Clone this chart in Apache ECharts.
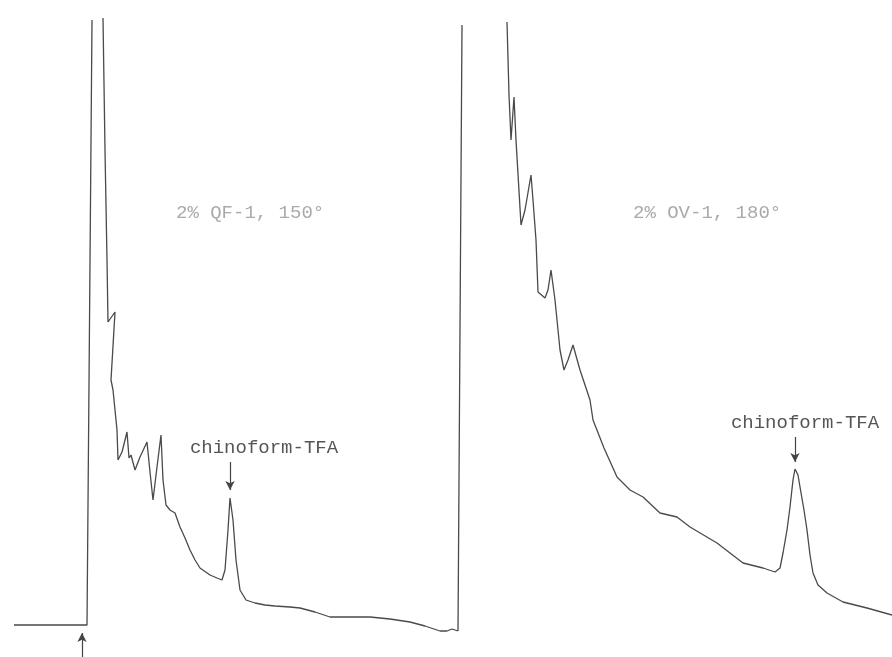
<!DOCTYPE html>
<html>
<head>
<meta charset="utf-8">
<script src="https://cdn.jsdelivr.net/npm/echarts@6/dist/echarts.min.js"></script>
<style>
html,body{margin:0;padding:0;background:#fff;}
#c{width:892px;height:657px;}
</style>
</head>
<body>
<div id="c"></div>
<script>
// Run 1: 2% QF-1, 150°  (time in chart units, detector signal in chart units)
var qfTime   = [14, 87, 92, null, 103, 105, 107, 108, 115, 111, 113, 117, 118, 122, 127, 129, 131, 135, 140, 147, 150, 153, 157, 161, 163, 166, 170, 175, 180, 185, 190, 195, 200, 210, 217, 222, 225, 228, 230, 233, 236, 240, 243, 246, 255, 265, 275, 290, 300, 315, 330, 350, 370, 390, 410, 425, 440, 447, 452, 458];
var qfSignal = [32, 32, 637, null, 639, 507, 397, 335, 345, 277, 267, 227, 197, 205, 225, 199, 202, 187, 200, 215, 185, 157, 190, 222, 177, 152, 147, 144, 130, 119, 107, 97, 89, 82, 79, 77, 87, 127, 159, 137, 97, 67, 62, 57, 54, 52, 51, 50, 49, 45, 40, 40, 40, 38, 35, 31, 26, 26, 28, 26];
// Run 2: 2% OV-1, 180°
var ovTime   = [458, 462, null, 507, 509, 511, 514, 516, 521, 525, 531, 533, 536, 538, 545, 548, 551, 555, 560, 564, 568, 573, 580, 590, 593, 604, 617, 630, 643, 660, 677, 690, 717, 743, 763, 775, 780, 783, 787, 790, 793, 795, 798, 800, 804, 807, 810, 813, 818, 827, 843, 867, 892];
var ovSignal = [26, 632, null, 635, 562, 517, 560, 517, 432, 447, 482, 457, 417, 365, 359, 367, 387, 357, 307, 287, 297, 312, 287, 257, 237, 209, 180, 167, 160, 144, 140, 130, 114, 94, 89, 85, 89, 104, 127, 150, 177, 188, 182, 170, 147, 127, 102, 84, 72, 64, 55, 49, 42];
var runTitles = ['2% QF-1, 150°', '2% OV-1, 180°'];
var peakLabel = 'chinoform-TFA';
var qfPeak = [230, 159];
var ovPeak = [795, 188];
var injection = 82;

function pairs(t, s){ var out=[]; for(var i=0;i<t.length;i++){ out.push(t[i]===null?[null,null]:[t[i],s[i]]); } return out; }

var chart = echarts.init(document.getElementById('c'), null, {renderer:'canvas'});
var lineCol = '#4a4a4a';
var arrowStyle = {color:'#444', width:1.2, type:'solid'};
function peakMarks(pk, up, down, off){
  return {
    markLine: {
      silent:true, symbol:['none','arrow'], symbolSize:[7,9],
      lineStyle: arrowStyle, label:{show:false},
      data: [[{coord:[pk[0], pk[1]+up]}, {coord:[pk[0], pk[1]+down]}]]
    },
    markPoint: {
      silent:true, symbol:'circle', symbolSize:0,
      data:[{coord:pk, value:peakLabel}],
      label:{show:true, formatter:peakLabel, position:'inside', offset:off,
             fontFamily:'Liberation Mono', fontSize:19, color:'#555'}
    }
  };
}
var s1 = {
  type:'line', name:runTitles[0], data:pairs(qfTime, qfSignal), showSymbol:false,
  connectNulls:false, lineStyle:{color:lineCol, width:1.3}, itemStyle:{color:lineCol}
};
var pm1 = peakMarks(qfPeak, 36, 8, [34,-50]);
s1.markPoint = pm1.markPoint;
s1.markLine = {
  silent:true, symbol:['none','arrow'], symbolSize:[7,9], lineStyle:arrowStyle, label:{show:false},
  data:[pm1.markLine.data[0], [{coord:[injection,0]},{coord:[injection,24]}]]
};
var s2 = {
  type:'line', name:runTitles[1], data:pairs(ovTime, ovSignal), showSymbol:false,
  connectNulls:false, lineStyle:{color:lineCol, width:1.3}, itemStyle:{color:lineCol}
};
var pm2 = peakMarks(ovPeak, 32, 7, [10,-46]);
s2.markPoint = pm2.markPoint; s2.markLine = pm2.markLine;

chart.setOption({
  animation:false,
  backgroundColor:'#fff',
  grid:{left:0, right:0, top:0, bottom:0, containLabel:false},
  xAxis:{type:'value', min:0, max:892, show:false},
  yAxis:{type:'value', min:0, max:657, show:false},
  graphic:[
    {type:'text', left:176, top:203, style:{text:runTitles[0], font:'19px "Liberation Mono"', fill:'#aaa'}},
    {type:'text', left:633, top:203, style:{text:runTitles[1], font:'19px "Liberation Mono"', fill:'#aaa'}}
  ],
  series:[s1, s2]
});
</script>
</body>
</html>
